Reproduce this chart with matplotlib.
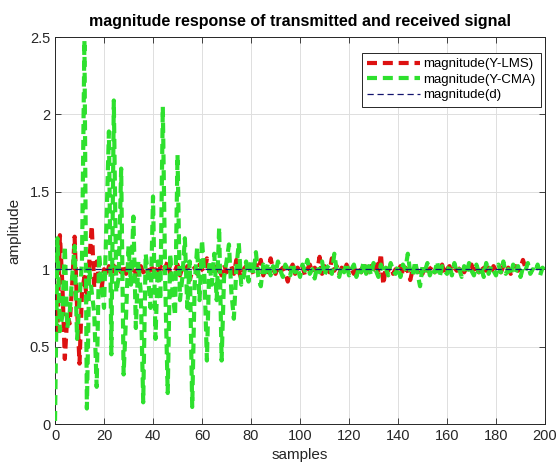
import numpy as np
import matplotlib
matplotlib.use("Agg")
import matplotlib.pyplot as plt

plt.rcParams["font.family"] = ["Liberation Sans", "DejaVu Sans"]

# magnitude of CMA-equalised output, sample by sample
y_cma_head = [
    0.02, 1.20, 0.60, 0.70, 1.15, 0.62, 0.72, 0.95, 1.15, 0.55,
    0.80, 1.05, 2.48, 0.10, 1.00, 0.85, 0.72, 0.24, 1.10, 0.90,
    0.75, 1.30, 1.89, 0.45, 2.09, 0.85, 0.95, 1.65, 0.32, 0.70,
    1.15, 0.90, 1.34, 0.62, 1.05, 0.85, 0.14, 1.10, 0.95, 0.75,
    1.47, 0.55, 1.05, 0.80, 2.05, 0.90, 0.20, 1.10, 0.85, 0.70,
    1.74, 0.80, 0.95, 1.20, 0.75, 1.05, 0.11, 0.90, 1.14, 0.80,
    1.19, 0.95, 0.41, 1.05, 0.90, 1.10, 0.80, 1.27, 0.41, 0.95,
    1.05, 1.16, 0.85, 0.68, 1.00, 1.17, 0.90, 0.95, 1.05, 0.92,
    1.06, 0.97, 1.11, 0.95, 0.89, 1.03,
]
y_cma_tail = [
    0.98, 1.04, 0.96, 1.02, 0.97, 1.05, 0.99, 0.95, 1.03, 1.00,
    0.96, 1.04, 0.98, 1.01, 0.95, 1.03, 0.99, 1.06, 0.97, 1.00,
    0.94, 1.02, 0.98, 1.05, 0.96, 1.01, 1.03, 0.97, 1.10, 0.99,
    0.95, 1.02, 0.98, 1.04, 0.96, 1.00, 1.03, 0.95, 1.01, 0.98,
    1.05, 0.97, 1.02, 0.96, 1.04, 0.99, 0.95, 1.03, 0.98, 1.01,
    0.96, 1.04, 0.99, 0.97, 1.02, 0.95, 1.03, 1.00, 1.10, 0.98,
    0.96, 1.05, 0.97, 0.89, 1.02, 0.99, 1.04, 0.96, 1.01, 0.98,
    1.05, 0.95, 1.02, 0.99, 0.97, 1.03, 0.96, 1.04, 0.98, 1.00,
    0.95, 1.02, 0.97, 1.04, 0.99, 0.96, 1.03, 0.98, 1.01, 0.95,
    1.04, 0.97, 1.02, 0.99, 0.96, 1.03, 0.98, 1.05, 0.97, 1.00,
    0.96, 1.03, 0.98, 1.02, 0.95, 1.01, 0.99, 1.04, 0.97, 1.00,
    0.98, 1.03, 0.96, 1.01, 0.99,
]
y_cma = y_cma_head + y_cma_tail

# magnitude of LMS-equalised output
y_lms_head = [
    0.85, 0.60, 1.22, 0.90, 0.42, 0.70, 0.65, 0.90, 1.21, 0.75,
    0.39, 0.85, 0.95, 0.80, 1.05, 1.28, 0.88, 1.05, 0.92, 0.88,
    1.00, 0.95, 1.02, 0.97, 1.05, 0.96, 1.00,
]
y_lms_tail = [
    0.98, 1.03, 0.97, 1.01, 0.99, 1.04, 0.96, 1.00, 1.02, 0.98,
    1.01, 0.97, 1.03, 0.99, 1.00, 0.96, 1.02, 0.98, 1.01, 1.05,
    0.97, 1.00, 0.99, 1.03, 0.96, 1.01, 0.98, 1.02, 0.93, 0.99,
    1.01, 0.97, 1.03, 1.00, 0.98, 1.07, 1.00, 0.97, 1.02, 0.99,
    1.01, 0.96, 1.03, 0.98, 1.00, 1.02, 0.97, 1.06, 0.99, 0.94,
    1.00, 1.02, 0.98, 1.01, 0.97, 1.03, 0.99, 1.06, 0.96, 1.02,
    0.98, 1.07, 1.00, 0.97, 1.02, 0.99, 1.01, 0.98, 0.92, 1.00,
    1.03, 0.97, 1.01, 0.99, 1.02, 0.96, 1.00, 1.03, 0.98, 1.01,
    0.99, 1.08, 0.97, 1.02, 1.00, 0.98, 1.07, 0.99, 1.02, 0.97,
    1.01, 0.98, 1.03, 0.99, 1.00, 0.97, 1.02, 1.01, 0.98, 1.04,
    0.99, 0.97, 1.02, 1.00, 1.05, 0.98, 1.10, 0.90, 1.01, 0.99,
    1.03, 0.97, 1.00, 0.98, 1.02, 0.96, 1.01, 0.99, 0.93, 1.00,
    1.02, 0.98, 1.01, 0.97, 1.03, 0.99, 1.00, 1.02, 0.98, 1.01,
    0.99, 1.03, 0.97, 1.00, 1.02, 0.98, 1.01, 0.99, 1.00, 1.02,
    0.98, 1.01, 0.99, 1.03, 0.97, 1.01, 0.98, 1.02, 1.00, 0.99,
    1.01, 0.98, 1.02, 0.99, 1.00, 0.98, 1.02, 0.99, 1.01, 0.97,
    1.00, 1.02, 0.99, 1.01, 1.06, 1.01,
]
y_lms = y_lms_head + y_lms_tail
y_d = [1.0] * len(y_cma)

samples = np.arange(len(y_cma))

fig = plt.figure(figsize=(5.58, 4.66), dpi=100)
ax = fig.add_axes([0.0986, 0.0901, 0.8781, 0.8305])

dash = (0, (2.4, 1.4))
l_lms, = ax.plot(samples[:len(y_lms)], y_lms, color="#dd1111", lw=3.0, linestyle=dash, label="magnitude(Y-LMS)", zorder=2)
l_cma, = ax.plot(samples, y_cma, color="#2ee02e", lw=3.0, linestyle=dash, label="magnitude(Y-CMA)", zorder=3)
l_d, = ax.plot(samples, y_d, color="#14146e", lw=0.9, linestyle=(0, (5, 3)), label="magnitude(d)", zorder=4)

ax.set_xlim(0, 200)
ax.set_ylim(0, 2.5)
ax.set_xticks(np.arange(0, 201, 20))
ax.set_yticks([0, 0.5, 1, 1.5, 2, 2.5])
ax.set_yticklabels(["0", "0.5", "1", "1.5", "2", "2.5"])
ax.grid(True, color="#dedede", lw=0.7)
ax.set_axisbelow(True)
ax.tick_params(direction="in", top=True, right=True, labelsize=10.5,
               colors="#262626", length=4, width=0.6)
for s in ax.spines.values():
    s.set_color("#262626")
    s.set_linewidth(0.7)

ax.set_title("magnitude response of transmitted and received signal",
             fontsize=11.5, fontweight="bold", pad=8)
ax.set_xlabel("samples", fontsize=11, color="#262626", labelpad=4)
ax.set_ylabel("amplitude", fontsize=11, color="#262626", labelpad=6)

leg = ax.legend(handles=[l_lms, l_cma, l_d], loc="upper right",
                bbox_to_anchor=(0.992, 0.959), borderaxespad=0, fontsize=9.5,
                handlelength=4.0, handletextpad=0.25, labelspacing=0.25,
                borderpad=0.4, fancybox=False, framealpha=1,
                edgecolor="#262626")
leg.get_frame().set_linewidth(0.7)

fig.savefig("out.png", dpi=100)
